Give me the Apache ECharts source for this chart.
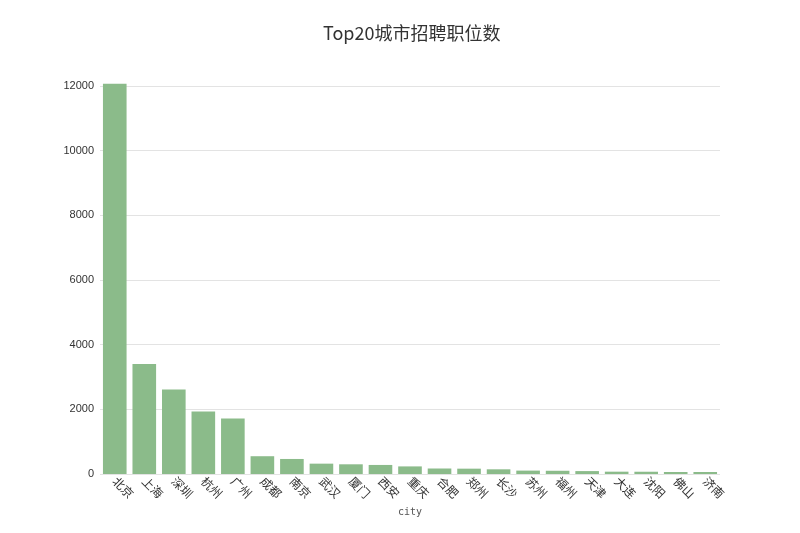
<!DOCTYPE html>
<html><head><meta charset="utf-8">
<script src="https://cdn.jsdelivr.net/npm/echarts@6/dist/echarts.min.js"></script>
<style>html,body{margin:0;padding:0;background:#fff}#c{width:800px;height:533px}</style>
</head><body><div id="c"></div>
<script>
const cities = ['北京','上海','深圳','杭州','广州','成都','南京','武汉','厦门','西安','重庆','合肥','郑州','长沙','苏州','福州','天津','大连','沈阳','佛山','济南'];
const counts = [12070,3400,2610,1930,1720,550,465,320,300,280,235,170,165,145,105,100,90,72,70,62,62];
const yTicks = [0,2000,4000,6000,8000,10000,12000];
const chart = echarts.init(document.getElementById('c'));
chart.setOption({
  animation:false,
  title:{text:'Top20城市招聘职位数',left:318,top:19,textStyle:{fontSize:18,fontWeight:'normal',color:'#333',fontFamily:'Noto Sans CJK SC'}},
  grid:{left:100,right:80,top:86,bottom:59},
  xAxis:{type:'category',data:cities,name:'city',nameLocation:'middle',nameGap:33,
    nameTextStyle:{fontSize:10,color:'#555',fontFamily:'DejaVu Sans Mono'},
    axisLine:{show:false},axisTick:{show:false},
    axisLabel:{rotate:-45,fontSize:12,color:'#333',margin:5,interval:0,fontFamily:'Noto Sans CJK SC'}},
  yAxis:{type:'value',min:yTicks[0],max:yTicks[yTicks.length-1],interval:2000,
    axisLine:{show:false},axisTick:{show:false},
    axisLabel:{fontSize:11,color:'#333',margin:6,formatter:v=>String(v)},
    splitLine:{lineStyle:{color:'#e3e3e3'}}},
  series:[{type:'bar',data:counts,clip:false,barCategoryGap:'20%',itemStyle:{color:'#8bbb8a'}}]
});
</script></body></html>
